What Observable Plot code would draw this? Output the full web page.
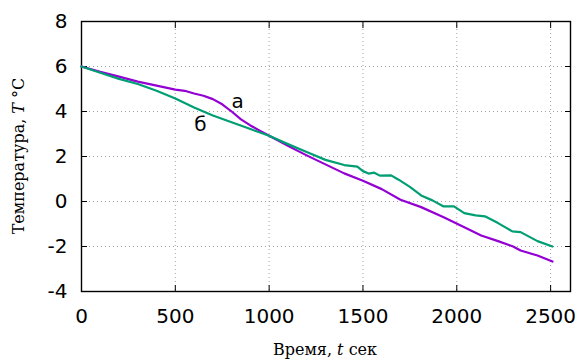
<!DOCTYPE html>
<html><head><meta charset="utf-8">
<script src="https://cdn.jsdelivr.net/npm/d3@7"></script>
<script src="https://cdn.jsdelivr.net/npm/@observablehq/plot@0.6"></script>
<style>body{margin:0;background:#fff}</style>
</head><body><div id="chart"></div>
<script>
const timeA = [0,100,200,300,400,500,550,600,650,700,750,800,850,900,950,1000,1050,1100,1150,1200,1300,1400,1500,1600,1700,1810,1930,2040,2130,2220,2300,2340,2430,2510];
const tempA = [6.00,5.76,5.55,5.33,5.15,4.97,4.92,4.80,4.70,4.55,4.32,4.00,3.65,3.38,3.15,2.92,2.70,2.48,2.26,2.05,1.65,1.25,0.92,0.55,0.08,-0.25,-0.70,-1.14,-1.51,-1.76,-2.00,-2.18,-2.40,-2.67];
const timeB = [0,100,200,300,400,500,600,700,800,900,1000,1100,1200,1300,1400,1470,1500,1530,1560,1590,1650,1690,1750,1810,1870,1930,1985,2040,2100,2150,2220,2296,2340,2430,2510];
const tempB = [6.00,5.72,5.45,5.22,4.92,4.58,4.18,3.82,3.52,3.22,2.92,2.55,2.20,1.85,1.62,1.55,1.35,1.24,1.28,1.15,1.16,0.97,0.65,0.27,0.05,-0.22,-0.22,-0.52,-0.62,-0.66,-0.96,-1.33,-1.36,-1.76,-2.00];
const xTicks = [0,500,1000,1500,2000,2500];
const yTicks = [-4,-2,0,2,4,6,8];
const labels = [{t:832, v:4.44, s:"а"},{t:634, v:3.42, s:"б"}];

const A = timeA.map((t,i)=>({t, v:tempA[i]}));
const B = timeB.map((t,i)=>({t, v:tempB[i]}));
const font = "DejaVu Sans, sans-serif";
const none = () => "";

const chart = Plot.plot({
  width: 582, height: 363,
  marginLeft: 81, marginRight: 12, marginTop: 21, marginBottom: 72,
  style: {fontFamily: font, fontSize: "20px", background: "#fff", color: "#000"},
  x: {domain: [0, 2606], label: null},
  y: {domain: [-4, 8], label: null},
  marks: [
    Plot.gridX(xTicks.slice(1), {stroke: "#999", strokeOpacity: 0.9, strokeDasharray: "1,3"}),
    Plot.gridY(yTicks.slice(1,-1), {stroke: "#999", strokeOpacity: 0.9, strokeDasharray: "1,3"}),
    Plot.axisX(xTicks, {anchor: "bottom", tickSize: -6, tickPadding: 23, fontSize: 20, tickFormat: d => String(d), stroke: "#000"}),
    Plot.axisX(xTicks, {anchor: "top", tickSize: -6, tickFormat: none, stroke: "#000"}),
    Plot.axisY(yTicks, {anchor: "left", tickSize: -6, tickPadding: 20, fontSize: 20, tickFormat: d => String(d), stroke: "#000"}),
    Plot.axisY(yTicks, {anchor: "right", tickSize: -6, tickFormat: none, stroke: "#000"}),
    Plot.frame({stroke: "#000", strokeWidth: 1.4}),
    Plot.line(A, {x: "t", y: "v", stroke: "#9400d3", strokeWidth: 2.2}),
    Plot.line(B, {x: "t", y: "v", stroke: "#009e73", strokeWidth: 2.2}),
    Plot.text(labels, {x: "t", y: "v", text: "s", fontSize: 20, fill: "#000"})
  ]
});
document.getElementById("chart").appendChild(chart);

const svg = d3.select(chart);
const serif = "DejaVu Serif, serif";
const yl = svg.append("text")
  .attr("transform", "translate(24,156) rotate(-90)")
  .attr("text-anchor", "middle")
  .attr("font-family", serif).attr("font-size", 16).attr("fill", "#000");
yl.append("tspan").text("Температура, ");
yl.append("tspan").attr("font-style", "italic").text("T");
yl.append("tspan").text(" °C");
const xl = svg.append("text")
  .attr("x", 325).attr("y", 355)
  .attr("text-anchor", "middle")
  .attr("font-family", serif).attr("font-size", 16).attr("fill", "#000");
xl.append("tspan").text("Время, ");
xl.append("tspan").attr("font-style", "italic").text("t");
xl.append("tspan").text(" сек");
</script></body></html>
